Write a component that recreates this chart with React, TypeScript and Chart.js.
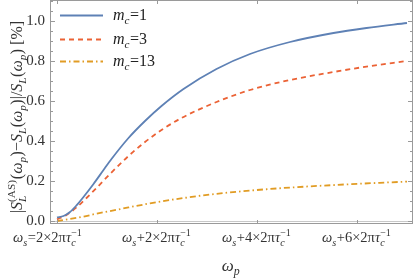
import React, { useEffect, useRef } from "react";
import { Chart, registerables } from "chart.js";
Chart.register(...registerables);

const SERIF = '"Liberation Serif", "DejaVu Serif", serif';

// x in units of 2π/τc above ω_s
const xM1 = [0, 0.13, 0.26, 0.39, 0.53, 0.73, 0.93, 1.09, 1.43, 1.76, 2.09, 2.53, 3.19, 3.86, 4.66, 5.53, 6.19, 7.0];
const yM1 = [0.018, 0.025, 0.045, 0.078, 0.12, 0.185, 0.255, 0.31, 0.415, 0.5, 0.575, 0.66, 0.76, 0.835, 0.895, 0.94, 0.965, 0.99];
const xM3 = [0, 0.19, 0.39, 0.59, 0.79, 1.06, 1.43, 1.76, 2.09, 2.49, 3.19, 3.86, 4.66, 5.53, 6.19, 7.0];
const yM3 = [0.008, 0.03, 0.068, 0.115, 0.165, 0.235, 0.325, 0.395, 0.455, 0.515, 0.595, 0.655, 0.705, 0.745, 0.772, 0.80];
const xM13 = [0, 0.53, 0.76, 1.23, 1.43, 1.86, 2.09, 2.56, 3.19, 3.86, 4.53, 5.86, 7.0];
const yM13 = [0.0, 0.022, 0.035, 0.058, 0.068, 0.088, 0.098, 0.116, 0.136, 0.152, 0.165, 0.184, 0.197];

const seriesNames = ["1", "3", "13"];
const seriesColors = ["#5E81B5", "#EB6235", "#E19C24"];
const seriesDash = [[], [5, 4], [6, 3, 1.5, 3]];

const yTicks = [0, 0.2, 0.4, 0.6, 0.8, 1.0];
const xTicks = [0, 2, 4, 6];
const xTickLabels = ["=2", "+2", "+4", "+6"];

type Seg = { t: string; it?: boolean; sub?: boolean; sup?: boolean; ss?: [string, string] };

function font(size: number, it?: boolean) {
  return `${it ? "italic " : ""}${size}px ${SERIF}`;
}

function segWidth(ctx: CanvasRenderingContext2D, s: Seg, size: number) {
  if (s.ss) {
    ctx.font = font(size * 0.7, true);
    const a = ctx.measureText(s.ss[0]).width;
    ctx.font = font(size * 0.7, false);
    const b = ctx.measureText(s.ss[1]).width;
    return Math.max(a, b) + 1;
  }
  const sz = s.sub || s.sup ? size * 0.7 : size;
  ctx.font = font(sz, s.it);
  return ctx.measureText(s.t).width + (s.sub || s.sup ? 0.5 : 0);
}

function richWidth(ctx: CanvasRenderingContext2D, segs: Seg[], size: number) {
  return segs.reduce((w, s) => w + segWidth(ctx, s, size), 0);
}

function drawRich(ctx: CanvasRenderingContext2D, segs: Seg[], x: number, y: number, size: number) {
  let cx = x;
  ctx.textBaseline = "alphabetic";
  ctx.textAlign = "left";
  for (const s of segs) {
    const w = segWidth(ctx, s, size);
    if (s.ss) {
      ctx.font = font(size * 0.7, true);
      ctx.fillText(s.ss[0], cx, y + size * 0.25);
      ctx.font = font(size * 0.7, false);
      ctx.fillText(s.ss[1], cx, y - size * 0.42);
    } else {
      const sz = s.sub || s.sup ? size * 0.7 : size;
      ctx.font = font(sz, s.it);
      const dy = s.sub ? size * 0.25 : s.sup ? -size * 0.42 : 0;
      ctx.fillText(s.t, cx, y + dy);
    }
    cx += w;
  }
}

const framePlugin = {
  id: "framePlugin",
  beforeDatasetsDraw(chart: any) {
    const { ctx, chartArea: a, scales } = chart;
    const y0 = scales.y.getPixelForValue(0);
    ctx.save();
    ctx.strokeStyle = "#c8c8c8";
    ctx.lineWidth = 1;
    ctx.beginPath();
    ctx.moveTo(a.left, Math.round(y0) + 0.5);
    ctx.lineTo(a.right, Math.round(y0) + 0.5);
    ctx.stroke();
    ctx.restore();
  },
  afterDraw(chart: any) {
    const { ctx, chartArea: a, scales } = chart;
    const xs = scales.x, ys = scales.y;
    ctx.save();
    // frame
    ctx.strokeStyle = "#9a9a9a";
    ctx.lineWidth = 1;
    ctx.strokeRect(Math.round(a.left) + 0.5, Math.round(a.top) + 0.5, Math.round(a.right - a.left) - 1, Math.round(a.bottom - a.top) - 1);
    // y ticks (major + minor), both sides
    ctx.beginPath();
    for (let i = 0; i <= 22; i++) {
      const v = i * 0.05;
      const p = Math.round(ys.getPixelForValue(v)) + 0.5;
      if (p < a.top || p > a.bottom) continue;
      const major = i % 4 === 0;
      const len = major ? 5 : 3;
      ctx.moveTo(a.left, p); ctx.lineTo(a.left + len, p);
      ctx.moveTo(a.right, p); ctx.lineTo(a.right - len, p);
    }
    // x ticks
    for (const t of xTicks) {
      const p = Math.round(xs.getPixelForValue(t)) + 0.5;
      ctx.moveTo(p, a.bottom); ctx.lineTo(p, a.bottom - 4);
      ctx.moveTo(p, a.top); ctx.lineTo(p, a.top + 4);
    }
    ctx.stroke();

    ctx.fillStyle = "#333";
    // y tick labels
    ctx.font = font(15);
    ctx.textAlign = "right";
    ctx.textBaseline = "middle";
    for (const t of yTicks) {
      ctx.fillText(t.toFixed(1), a.left - 5, ys.getPixelForValue(t) + 0.5);
    }
    // x tick labels
    const tsz = 14.5;
    xTicks.forEach((t, i) => {
      const segs: Seg[] = [
        { t: "ω", it: true }, { t: "s", it: true, sub: true },
        { t: xTickLabels[i] + "×2π" }, { t: "τ", it: true }, { t: "", ss: ["c", "−1"] },
      ];
      const w = richWidth(ctx, segs, tsz);
      let cx = xs.getPixelForValue(t);
      if (i === 0) cx -= 9;
      drawRich(ctx, segs, cx - w / 2, 242, tsz);
    });
    // x title
    const xt: Seg[] = [{ t: "ω", it: true }, { t: "p", it: true, sub: true }];
    const xw = richWidth(ctx, xt, 17);
    drawRich(ctx, xt, 231 - xw / 2, 271, 17);

    // y title
    const ysz = 16;
    const yt: Seg[] = [
      { t: "|" }, { t: "S", it: true }, { t: "", ss: ["L", "(AS)"] }, { t: "(" }, { t: "ω", it: true }, { t: "p", it: true, sub: true },
      { t: ")−" }, { t: "S", it: true }, { t: "L", it: true, sub: true }, { t: "(" }, { t: "ω", it: true }, { t: "p", it: true, sub: true },
      { t: ")|/" }, { t: "S", it: true }, { t: "L", it: true, sub: true }, { t: "(" }, { t: "ω", it: true }, { t: "p", it: true, sub: true },
      { t: ") [%]" },
    ];
    const yw = richWidth(ctx, yt, ysz);
    ctx.save();
    ctx.translate(22, 117);
    ctx.rotate(-Math.PI / 2);
    drawRich(ctx, yt, -yw / 2, 0, ysz);
    ctx.restore();

    // legend
    const ly = [15, 39, 61];
    seriesNames.forEach((n, i) => {
      ctx.save();
      ctx.strokeStyle = seriesColors[i];
      ctx.lineWidth = 1.8;
      ctx.setLineDash(seriesDash[i]);
      ctx.beginPath();
      ctx.moveTo(60, ly[i] + 0.5);
      ctx.lineTo(103, ly[i] + 0.5);
      ctx.stroke();
      ctx.restore();
      ctx.fillStyle = "#222";
      const segs: Seg[] = [{ t: "m", it: true }, { t: "c", it: true, sub: true }, { t: "=" + n }];
      drawRich(ctx, segs, 113, ly[i] + 5, 16);
    });
    ctx.restore();
  },
};

export default function App() {
  const ref = useRef<HTMLCanvasElement>(null);
  useEffect(() => {
    const xsArr = [xM1, xM3, xM13];
    const ysArr = [yM1, yM3, yM13];
    const chart = new Chart(ref.current!, {
      type: "line",
      data: {
        datasets: seriesNames.map((n, i) => ({
          label: "m_c=" + n,
          data: xsArr[i].map((x, j) => ({ x, y: ysArr[i][j] })),
          borderColor: seriesColors[i],
          borderDash: seriesDash[i],
          borderWidth: 1.8,
          pointRadius: 0,
          fill: false,
          cubicInterpolationMode: "monotone" as const,
        })),
      },
      options: {
        responsive: false,
        animation: false,
        layout: { padding: { left: 50, right: 2, top: 0, bottom: 55 } },
        plugins: { legend: { display: false }, tooltip: { enabled: false } },
        scales: {
          x: { type: "linear", display: false, min: -0.14, max: 7.12 },
          y: { type: "linear", display: false, min: -0.015, max: 1.105 },
        },
      },
      plugins: [framePlugin],
    });
    return () => chart.destroy();
  }, []);
  return (
    <div style={{ position: "fixed", left: 0, top: 0, width: 415, height: 279, background: "#fff" }}>
      <canvas ref={ref} width={415} height={279} style={{ display: "block" }} />
    </div>
  );
}
